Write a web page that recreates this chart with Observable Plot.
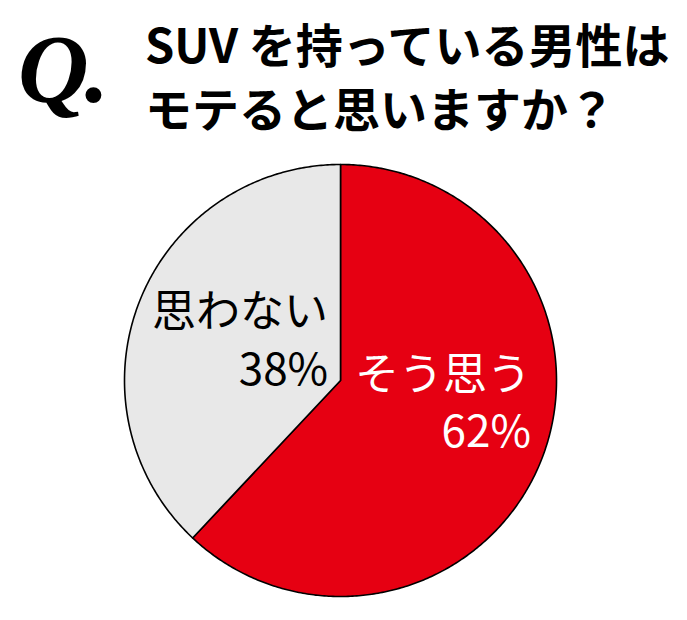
<!DOCTYPE html>
<html>
<head>
<meta charset="utf-8">
<script src="https://cdn.jsdelivr.net/npm/d3@7"></script>
<script src="https://cdn.jsdelivr.net/npm/@observablehq/plot@0.6"></script>
<style>
  html, body { margin: 0; padding: 0; background: #fff; }
  #wrap { position: relative; width: 687px; }
  #title { position: relative; height: 150px; }
  #q { position: absolute; left: 18px; top: 20px; font-family: "Liberation Serif", "DejaVu Serif", serif; font-style: italic; font-weight: bold; font-size: 98px; line-height: 1; color: #000; letter-spacing: -4px; }
  #t { position: absolute; left: 145px; top: 11px; font-family: "Noto Sans CJK JP", sans-serif; font-weight: bold; font-size: 47px; line-height: 64px; color: #000; white-space: nowrap; }
  svg { display: block; }
</style>
</head>
<body>
<div id="wrap">
  <div id="title">
    <div id="q">Q.</div>
    <div id="t">SUV を持っている男性は<br>モテると思いますか？</div>
  </div>
  <div id="chart"></div>
</div>
<script>
const categories = ["そう思う", "思わない"];
const values = [62, 38];
const colors = ["#e60012", "#e8e8e8"];
const labelColors = ["#ffffff", "#000000"];

const pie = d3.pie().sort(null).value(d => d.value)(
  categories.map((c, i) => ({key: c, value: values[i]}))
);

// Build slice outlines (in unit-circle data space, y up) from pie angles
const pts = [];
for (const s of pie) {
  const k = s.data.key;
  pts.push({key: k, x: 0, y: 0});
  const n = Math.max(2, Math.ceil((s.endAngle - s.startAngle) / 0.01));
  for (let j = 0; j <= n; j++) {
    const a = s.startAngle + (s.endAngle - s.startAngle) * j / n;
    pts.push({key: k, x: Math.sin(a), y: Math.cos(a)});
  }
  pts.push({key: k, x: 0, y: 0});
}

const labels = pie.map(s => {
  const a = (s.startAngle + s.endAngle) / 2;
  return {key: s.data.key, x: 0.5 * Math.sin(a), y: 0.5 * Math.cos(a),
          text: s.data.key + "\n" + s.data.value + "%"};
});

const cx = 340, cy = 230, r = 216;
const chart = Plot.plot({
  width: 687,
  height: 470,
  margin: 0,
  x: {domain: [-1, 1], range: [cx - r, cx + r], axis: null},
  y: {domain: [-1, 1], range: [cy + r, cy - r], axis: null},
  color: {domain: categories, range: colors},
  marks: [
    Plot.line(pts, {x: "x", y: "y", z: "key", fill: "key", stroke: "#000", strokeWidth: 1.6, strokeLinejoin: "round", curve: "linear"}),
    Plot.text(labels.filter(d => d.key === categories[1]), {
      x: "x", y: "y", text: "text", textAnchor: "end", dx: 88, dy: -3,
      fill: labelColors[1], fontSize: 44, lineHeight: 1.3,
      fontFamily: "Noto Sans CJK JP"
    }),
    Plot.text(labels.filter(d => d.key === categories[0]), {
      x: "x", y: "y", text: "text", textAnchor: "end", dx: 90, dy: -20,
      fill: labelColors[0], fontSize: 44, lineHeight: 1.3,
      fontFamily: "Noto Sans CJK JP"
    })
  ]
});
document.getElementById("chart").appendChild(chart);
</script>
</body>
</html>
